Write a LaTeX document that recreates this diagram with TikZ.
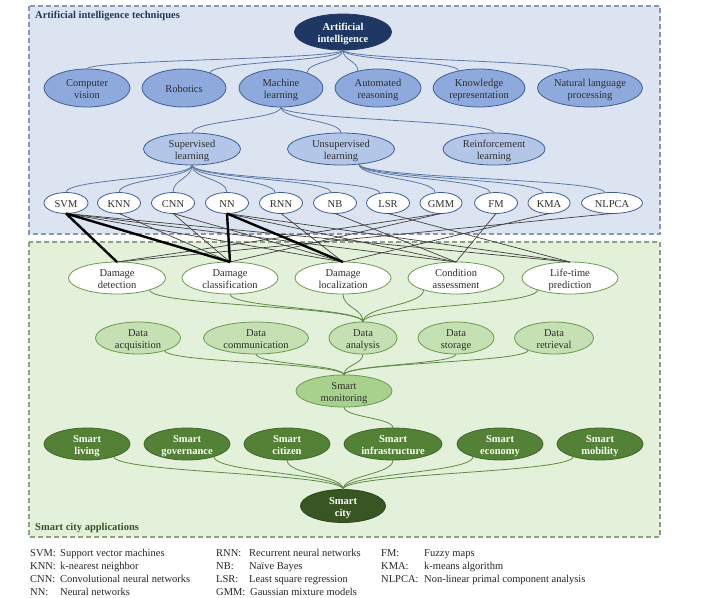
\documentclass[tikz,border=0pt]{standalone}
\usepackage{fontspec}
\setmainfont{Liberation Serif}
\usetikzlibrary{shapes.geometric,calc}
\newcommand{\lb}[1]{\makebox[0pt]{\smash{\raisebox{-4.8pt}{\begin{tabular}{@{}c@{}}#1\end{tabular}}}}}
\definecolor{bluebg}{HTML}{DCE4F2}
\definecolor{bluebd}{HTML}{8496B0}
\definecolor{greenbg}{HTML}{E3F0DA}
\definecolor{greenbd}{HTML}{8EA27F}
\definecolor{navy}{HTML}{1F3763}
\definecolor{lvtwo}{HTML}{8EA9DB}
\definecolor{lvthree}{HTML}{B4C6E7}
\definecolor{bline}{HTML}{3E5F96}
\definecolor{gline}{HTML}{6A9A4E}
\definecolor{datag}{HTML}{C5E0B3}
\definecolor{smg}{HTML}{A9D18E}
\definecolor{darkg}{HTML}{538135}
\definecolor{darkerg}{HTML}{375623}
\definecolor{txt}{HTML}{2E2E2E}
\begin{document}
\begin{tikzpicture}[x=1pt,y=-1pt,
  font=\fontsize{10.5}{12.5}\selectfont,
  el/.style={ellipse, inner sep=0pt, outer sep=0pt, line width=0.8pt, text=txt},
  sz/.style 2 args={minimum width=#1pt, minimum height=#2pt},
  aitop/.style={el, fill=navy, draw=navy, text=white, font=\fontsize{10.5}{12.5}\selectfont\bfseries},
  lvb/.style={el, fill=lvtwo, draw=bline},
  lvc/.style={el, fill=lvthree, draw=bline},
  algo/.style={el, fill=white, draw=bline, sz={43}{21}},
  dmg/.style={el, fill=white, draw=gline, sz={96}{32}},
  dat/.style={el, fill=datag, draw=gline},
  smon/.style={el, fill=smg, draw=gline},
  smt/.style={el, fill=darkg, draw=darkg!80!black, text=white, font=\fontsize{10.5}{12.5}\selectfont\bfseries, sz={86}{32}},
  scity/.style={el, fill=darkerg, draw=darkerg!80!black, text=white, font=\fontsize{10.5}{12.5}\selectfont\bfseries},
  scurve/.style={to path={.. controls ($(\tikztostart)!0.5!(\tikztostart|-\tikztotarget)$) and ($(\tikztotarget)!0.5!(\tikztotarget|-\tikztostart)$) .. (\tikztotarget)}},
  bl/.style={draw=bline!85!white, line width=0.8pt},
  gl/.style={draw=gline!90!black, line width=0.8pt},
  thn/.style={draw=black!75, line width=0.7pt},
  thk/.style={draw=black, line width=2.4pt},
  leg/.style={anchor=base west, inner sep=0pt, text=black!85},
  ttl/.style={anchor=west, inner sep=0pt, font=\fontsize{10.5}{12.5}\selectfont\bfseries}
]
\useasboundingbox (0,0) rectangle (703,597);
\fill[white] (0,0) rectangle (703,597);
% panels
\draw[fill=bluebg, draw=bluebd, line width=1.2pt, dash pattern=on 5pt off 3pt] (29,6) rectangle (660,234);
\draw[fill=greenbg, draw=greenbd, line width=1.2pt, dash pattern=on 5pt off 3pt] (29,242) rectangle (660,537);
\node[ttl, text=navy] (t1) at (35,16) {Artificial intelligence techniques};
\node[ttl, text=darkerg] (t2) at (35,528) {Smart city applications};

% nodes
\node[aitop, sz={97}{36}] (ai) at (343,32) {\lb{Artificial\\intelligence}};
\node[lvb, sz={86}{38}] (cv) at (87,88) {\lb{Computer\\vision}};
\node[lvb, sz={84}{38}] (rob) at (184,88) {\lb{Robotics}};
\node[lvb, sz={84}{38}] (ml) at (281,88) {\lb{Machine\\learning}};
\node[lvb, sz={86}{38}] (ar) at (378,88) {\lb{Automated\\reasoning}};
\node[lvb, sz={92}{38}] (kr) at (479,88) {\lb{Knowledge\\representation}};
\node[lvb, sz={105}{38}] (nlp) at (590,88) {\lb{Natural language\\processing}};

\node[lvc, sz={97}{32}] (sup) at (192,149) {\lb{Supervised\\learning}};
\node[lvc, sz={107}{32}] (uns) at (341,149) {\lb{Unsupervised\\learning}};
\node[lvc, sz={102}{32}] (rei) at (494,149) {\lb{Reinforcement\\learning}};

\node[algo, sz={44}{21}] (svm) at (66,203) {\lb{SVM}};
\node[algo] (knn) at (119,203) {\lb{KNN}};
\node[algo] (cnn) at (173,203) {\lb{CNN}};
\node[algo] (nn) at (227,203) {\lb{NN}};
\node[algo] (rnn) at (281,203) {\lb{RNN}};
\node[algo] (nb) at (335,203) {\lb{NB}};
\node[algo] (lsr) at (388,203) {\lb{LSR}};
\node[algo, sz={42}{21}] (gmm) at (441,203) {\lb{GMM}};
\node[algo] (fm) at (496,203) {\lb{FM}};
\node[algo, sz={42}{21}] (kma) at (549,203) {\lb{KMA}};
\node[algo, sz={61}{21}] (nlpca) at (612,203) {\lb{NLPCA}};

\node[dmg, sz={97}{32}] (dd) at (117,278) {\lb{Damage\\detection}};
\node[dmg] (dc) at (230,278) {\lb{Damage\\classification}};
\node[dmg] (dl) at (343,278) {\lb{Damage\\localization}};
\node[dmg] (ca) at (456,278) {\lb{Condition\\assessment}};
\node[dmg] (lp) at (570,278) {\lb{Life-time\\prediction}};

\node[dat, sz={85}{32}] (dacq) at (138,338) {\lb{Data\\acquisition}};
\node[dat, sz={105}{32}] (dcom) at (256,338) {\lb{Data\\communication}};
\node[dat, sz={68}{32}] (dan) at (363,338) {\lb{Data\\analysis}};
\node[dat, sz={76}{32}] (dst) at (456,338) {\lb{Data\\storage}};
\node[dat, sz={79}{32}] (dret) at (554,338) {\lb{Data\\retrieval}};

\node[smon, sz={96}{32}] (smon) at (344,391) {\lb{Smart\\monitoring}};

\node[smt] (sl) at (87,444) {\lb{Smart\\living}};
\node[smt] (sg) at (187,444) {\lb{Smart\\governance}};
\node[smt] (scz) at (287,444) {\lb{Smart\\citizen}};
\node[smt, sz={98}{32}] (si) at (393,444) {\lb{Smart\\infrastructure}};
\node[smt] (se) at (500,444) {\lb{Smart\\economy}};
\node[smt] (smb) at (600,444) {\lb{Smart\\mobility}};

\node[scity, sz={85}{33}] (sc) at (343,506) {\lb{Smart\\city}};

% AI tree curves
\draw[bl] (ai.south) to[scurve] (cv.north);
\draw[bl] (ai.south) to[scurve] (rob.30);
\draw[bl] (ai.south) to[scurve] (ml.30);
\draw[bl] (ai.south) to[scurve] (ar.140);
\draw[bl] (ai.south) to[scurve] (kr.140);
\draw[bl] (ai.south) to[scurve] (nlp.140);

\draw[bl] (ml.south) to[scurve] (sup.north);
\draw[bl] (ml.south) to[scurve] (uns.north);
\draw[bl] (ml.south) to[scurve] (rei.north);

\draw[bl] (sup.south) to[scurve] (svm.north);
\draw[bl] (sup.south) to[scurve] (knn.north);
\draw[bl] (sup.south) to[scurve] (cnn.north);
\draw[bl] (sup.south) to[scurve] (nn.north);
\draw[bl] (sup.south) to[scurve] (rnn.120);
\draw[bl] (sup.south) to[scurve] (nb.110);
\draw[bl] (sup.south) to[scurve] (lsr.130);

\draw[bl] (uns.-40) to[scurve] (gmm.120);
\draw[bl] (uns.-40) to[scurve] (fm.120);
\draw[bl] (uns.-40) to[scurve] (kma.120);
\draw[bl] (uns.-40) to[scurve] (nlpca.125);

% algorithm -> task lines
\draw[thn] (svm.south) -- (dl.north);
\draw[thn] (svm.south) -- (ca.north);
\draw[thn] (svm.south) -- (lp.north);
\draw[thn] (knn.south) -- (dc.north);
\draw[thn] (cnn.south) -- (dc.north);
\draw[thn] (cnn.south) -- (dl.north);
\draw[thn] (nn.south) -- (ca.north);
\draw[thn] (nn.south) -- (lp.north);
\draw[thn] (rnn.south) -- (dl.north);
\draw[thn] (nb.south) -- (ca.north);
\draw[thn] (lsr.south) -- (lp.north);
\draw[thn] (gmm.south) -- (dd.north);
\draw[thn] (gmm.south) -- (dc.north);
\draw[thn] (fm.south) -- (ca.north);
\draw[thn] (kma.south) -- (dl.north);
\draw[thn] (nlpca.south) -- (dd.north);
\draw[thk] (svm.south) -- (dd.north);
\draw[thk] (svm.south) -- (dc.north);
\draw[thk] (nn.south) -- (dc.north);
\draw[thk] (nn.south) -- (dl.north);

% green curves
\draw[gl] (dd.-20) to[scurve] (dan.north);
\draw[gl] (dc.south) to[scurve] (dan.north);
\draw[gl] (dl.south) to[scurve] (dan.north);
\draw[gl] (ca.-160) to[scurve] (dan.north);
\draw[gl] (lp.-160) to[scurve] (dan.north);

\draw[gl] (dacq.-25) to[scurve] (smon.north);
\draw[gl] (dcom.south) to[scurve] (smon.north);
\draw[gl] (dan.south) to[scurve] (smon.north);
\draw[gl] (dst.south) to[scurve] (smon.north);
\draw[gl] (dret.-155) to[scurve] (smon.north);

\draw[gl] (smon.south) to[scurve] (si.north);

\draw[gl] (sl.-25) to[scurve] (sc.north);
\draw[gl] (sg.-25) to[scurve] (sc.north);
\draw[gl] (scz.south) to[scurve] (sc.north);
\draw[gl] (si.south) to[scurve] (sc.north);
\draw[gl] (se.-155) to[scurve] (sc.north);
\draw[gl] (smb.-155) to[scurve] (sc.north);

% legend
\node[leg] (a1) at (30,556) {SVM:};  \node[leg] (a1d) at (60,556) {Support vector machines};
\node[leg] (a2) at (30,569) {KNN:};    \node[leg] (a2d) at (60,569) {k-nearest neighbor};
\node[leg] (a3) at (30,582) {CNN:};  \node[leg] (a3d) at (60,582) {Convolutional neural networks};
\node[leg] (a4) at (30,595) {NN:};     \node[leg] (a4d) at (60,595) {Neural networks};
\node[leg] (b1) at (216,556) {RNN:}; \node[leg] (b1d) at (249,556) {Recurrent neural networks};
\node[leg] (b2) at (216,569) {NB:};    \node[leg] (b2d) at (249,569) {Naïve Bayes};
\node[leg] (b3) at (216,582) {LSR:}; \node[leg] (b3d) at (249,582) {Least square regression};
\node[leg] (b4) at (216,595) {GMM:};   \node[leg] (b4d) at (250,595) {Gaussian mixture models};
\node[leg] (c1) at (381,556) {FM:};  \node[leg] (c1d) at (424,556) {Fuzzy maps};
\node[leg] (c2) at (381,569) {KMA:};   \node[leg] (c2d) at (424,569) {k-means algorithm};
\node[leg] (c3) at (381,582) {NLPCA:}; \node[leg] (c3d) at (424,582) {Non-linear primal component analysis};
\end{tikzpicture}
\end{document}
